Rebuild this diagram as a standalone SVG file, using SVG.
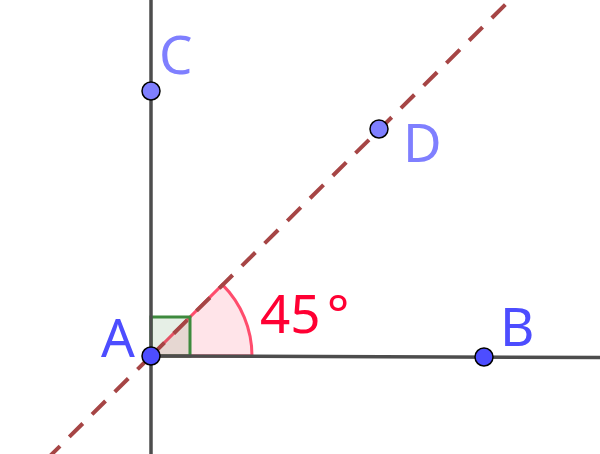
<svg xmlns="http://www.w3.org/2000/svg" width="600" height="454" viewBox="0 0 600 454">
<style>
.ln{stroke:#4d4d4d;stroke-width:3.5;fill:none}
.dash{stroke:#a64545;stroke-width:4;stroke-dasharray:19 13;fill:none}
.pt{stroke:#000;stroke-width:1.5}
.lbl{font-family:"Noto Sans","Open Sans",sans-serif;font-size:53px}
</style>
<rect width="600" height="454" fill="#fff"/>
<g id="angle45">
<path d="M151,356 L252,356 A101,101 0 0 0 222.4,284.6 Z" fill="#ff4d6d" fill-opacity="0.15" stroke="#ff4d6d" stroke-width="3"/>
</g>
<g id="rightangle">
<rect x="151" y="317" width="39" height="39" fill="#2e7d2e" fill-opacity="0.12" stroke="#3d8a3d" stroke-width="3"/>
</g>
<g id="connectors">
<line class="ln" x1="151" y1="0" x2="151" y2="454"/>
<line class="ln" x1="151" y1="356" x2="600" y2="357.5"/>
<line class="dash" x1="151" y1="356" x2="512" y2="-2"/>
<line class="dash" x1="151" y1="356" x2="50" y2="456"/>
</g>
<g id="C"><circle class="pt" cx="151" cy="91" r="9" fill="#7f7fff"/><text class="lbl" x="159" y="74" fill="#7f7fff">C</text></g>
<g id="D"><circle class="pt" cx="379" cy="129" r="9" fill="#7f7fff"/><text class="lbl" x="403" y="162" fill="#7f7fff">D</text></g>
<g id="A"><circle class="pt" cx="151" cy="356" r="9" fill="#4d4dff"/><text class="lbl" x="101" y="357" fill="#4d4dff">A</text></g>
<g id="B"><circle class="pt" cx="484" cy="357" r="9" fill="#4d4dff"/><text class="lbl" x="500" y="346" fill="#4d4dff">B</text></g>
<g id="label45"><text class="lbl" x="260" y="333" fill="#ff0033">45<tspan dx="6">°</tspan></text></g>
</svg>
